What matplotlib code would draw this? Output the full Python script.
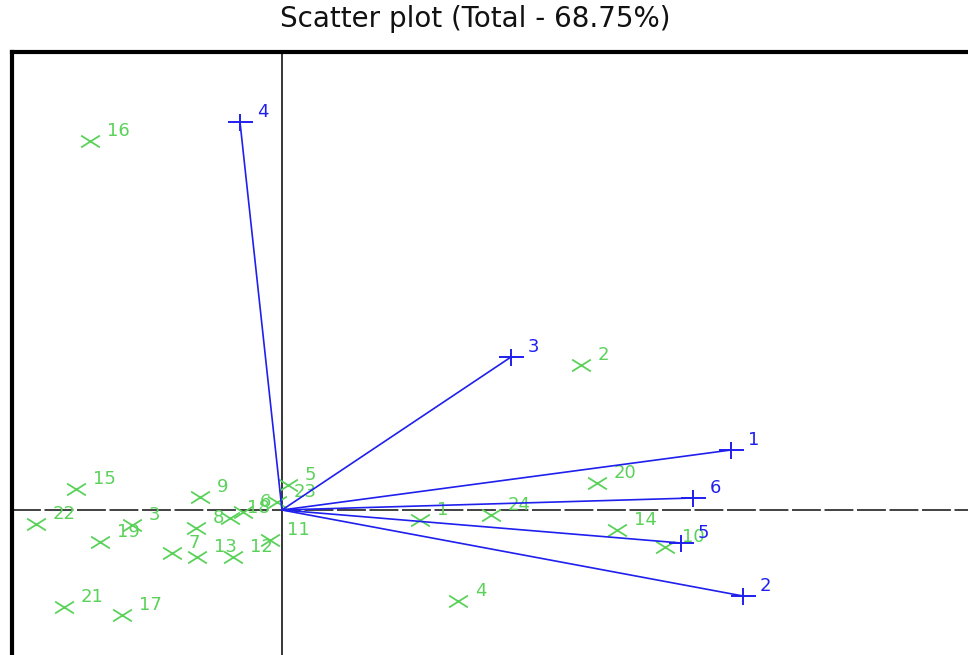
import numpy as np
import matplotlib
matplotlib.use("Agg")
import matplotlib.pyplot as plt
from matplotlib.path import Path

plt.rcParams['font.family'] = ['DejaVu Sans']

#observation scores (green x)
obs_labels = ['1', '2', '3', '4', '5', '6', '7', '8', '9', '10', '11', '12',
              '13', '14', '15', '16', '17', '18', '19', '20', '21', '22', '23', '24']
obs_x = [1.38, 2.99, -1.50, 1.76, 0.06, -0.39, -1.10, -0.86, -0.82, 3.83, -0.12, -0.49,
         -0.85, 3.35, -2.06, -1.92, -1.60, -0.52, -1.82, 3.15, -2.18, -2.46, -0.05, 2.09]
obs_y = [-0.10, 1.45, -0.15, -0.91, 0.25, -0.02, -0.43, -0.18, 0.13, -0.37, -0.30, -0.47,
         -0.47, -0.20, 0.21, 3.69, -1.05, -0.08, -0.32, 0.27, -0.97, -0.14, 0.08, -0.05]

#variable loadings (blue +)
var_labels = ['1', '2', '3', '4', '5', '6']
var_x = [4.49, 4.61, 2.29, -0.42, 3.99, 4.11]
var_y = [0.60, -0.86, 1.53, 3.88, -0.33, 0.12]

GREEN = '#5ad25a'
BLUE = '#1f1fee'

#the original markers are wider than tall
x_mark = Path([(-1, -0.63), (1, 0.63), (-1, 0.63), (1, -0.63)],
              [Path.MOVETO, Path.LINETO, Path.MOVETO, Path.LINETO])
plus_mark = Path([(-1, 0), (1, 0), (0, -0.68), (0, 0.68)],
                 [Path.MOVETO, Path.LINETO, Path.MOVETO, Path.LINETO])

fig = plt.figure(figsize=(9.68, 6.55), dpi=100)
ax = fig.add_axes([12/968, 0, 1 - 12/968, (655 - 52)/655])
ax.set_xlim(-2.70, 6.86)
ax.set_ylim(-1.45, 4.58)

#frame: only left and top are visible
for s in ['right', 'bottom']:
    ax.spines[s].set_visible(False)
for s in ['left', 'top']:
    ax.spines[s].set_linewidth(3)
    ax.spines[s].set_color('black')
ax.set_xticks([])
ax.set_yticks([])

#axis lines through origin
ax.axvline(0, color='black', lw=1.1, zorder=1)
ax.axhline(0, color='#333333', lw=1.3, dashes=(16, 2), zorder=1)

#observations
ax.plot(obs_x, obs_y, linestyle='none', marker=x_mark, ms=13.5, mew=1.3, color=GREEN, zorder=2)
for lab, x, y in zip(obs_labels, obs_x, obs_y):
    ax.annotate(lab, (x, y), xytext=(12, 7), textcoords='offset points',
                ha='left', va='center', fontsize=13, color=GREEN, zorder=3)

#variables with vectors from the origin
for lab, x, y in zip(var_labels, var_x, var_y):
    ax.plot([0, x], [0, y], color=BLUE, lw=1.2, zorder=4)
    ax.annotate(lab, (x, y), xytext=(12, 7), textcoords='offset points',
                ha='left', va='center', fontsize=13, color=BLUE, zorder=5)
ax.plot(var_x, var_y, linestyle='none', marker=plus_mark, ms=18, mew=1.4, color=BLUE, zorder=4)

fig.text(475/968, 1 - 19/655, 'Scatter plot (Total - 68.75%)', ha='center', va='center',
         fontsize=20, color='#111111')

fig.savefig('out.png', dpi=100)
